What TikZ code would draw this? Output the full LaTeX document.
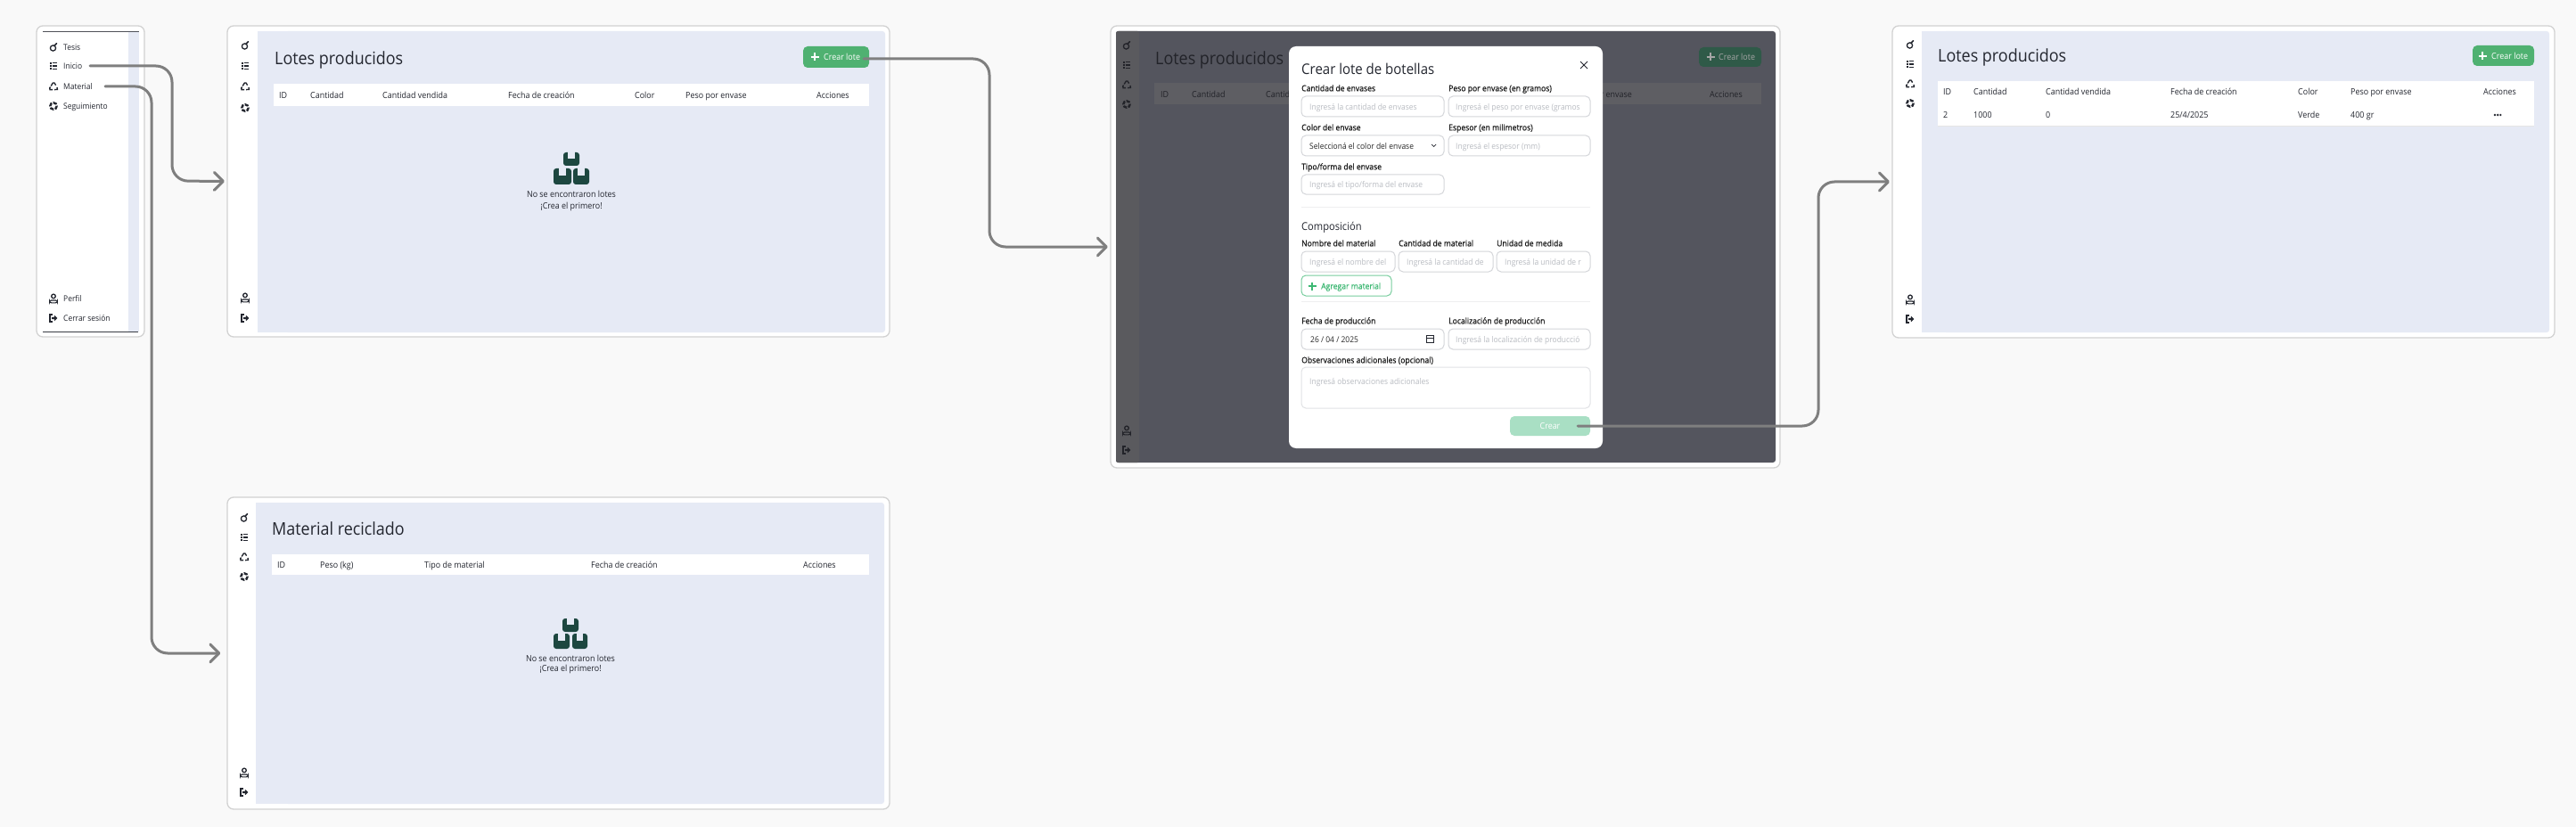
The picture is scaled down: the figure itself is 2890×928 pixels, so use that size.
\documentclass[tikz,border=0pt]{standalone}
\usepackage{fontspec}
\setmainfont[FakeStretch=0.92]{Open Sans}
\newfontfamily\labf[FakeStretch=0.92,FakeBold=0.6]{Open Sans}
\usetikzlibrary{arrows.meta}
\definecolor{pagebg}{HTML}{F9F9F9}
\definecolor{framec}{HTML}{D2D2D2}
\definecolor{bluec}{HTML}{E6EAF5}
\definecolor{ink}{HTML}{23262F}
\definecolor{conn}{HTML}{7F7F7F}
\definecolor{greenb}{HTML}{4FB171}
\definecolor{greend}{HTML}{2F5A48}
\definecolor{greenl}{HTML}{A9DFC4}
\definecolor{greent}{HTML}{3DB873}
\definecolor{boxc}{HTML}{1D4740}
\definecolor{dimbg}{HTML}{54555E}
\definecolor{dimside}{HTML}{5A5A5E}
\definecolor{dimhead}{HTML}{5E5E63}
\definecolor{dimink}{HTML}{222329}
\definecolor{field}{HTML}{D4D6DA}
\definecolor{ph}{HTML}{B9BCC2}
\definecolor{rulec}{HTML}{EEEEF0}
\colorlet{icol}{ink}
\newcommand{\fs}[1]{\fontsize{#1pt}{#1pt}\selectfont}
\tikzset{
 x=1pt,y=-1pt,
 frame/.style={draw=framec,line width=1.3pt,fill=white,rounded corners=7pt,inner sep=0pt,minimum width=0pt},
 basetxt/.style={anchor=base west,inner sep=0pt,text=ink},
 txt/.style={basetxt,yshift=-3.4pt,font=\fs{9.7}},
 side/.style={txt,font=\fs{9.2}},
 title/.style={basetxt,font=\fs{19.5}},
 lab/.style={txt,font=\labf\fs{9.35},text=black!90},
 val/.style={txt,font=\fs{9.2},text=black!85},
 phd/.style={txt,font=\fs{9.2},text=ph},
 inp/.style={draw=field,line width=1pt,fill=white,rounded corners=5pt},
 flow/.style={draw=conn,line width=3pt,rounded corners=18pt,line cap=round,-{Straight Barb[length=10pt,width=20pt,round]}},
 icon/.style={draw=icol,line width=1.3pt,line cap=round},
 ic bottle/.pic={\draw[icon] (-0.5,1) circle[radius=3.1];\draw[icon,line width=1.6pt] (0.8,-1.5)--(3.6,-4.4);},
 ic list/.pic={\foreach \q in {-3.4,0,3.4}{\fill[icol] (-4.4,\q-1) rectangle (-2.4,\q+1);\draw[icon,line cap=butt] (-1.4,\q)--(4.4,\q);}},
 ic recy/.pic={\draw[icon,line cap=butt,line width=1.4pt,join=round] (-2.8,-0.6)--(-0.6,-4)--(1,-4)--(2.6,-1.4);
   \draw[icon,line cap=butt,line width=1.4pt] (4,1)--(4.4,3.4)--(1.2,3.6);
   \draw[icon,line cap=butt,line width=1.4pt] (-1,3.6)--(-4,3.6)--(-4.2,1.6)--(-3.4,0.6);},
 ic gear/.pic={\draw[draw=icol,line width=2.4pt,dash pattern=on 4pt off 1.6pt] (0,0) circle[radius=3.7];},
 ic user/.pic={\draw[icon] (0,-2.6) circle[radius=2.3];\draw[icon,line width=1.1pt,rounded corners=2pt] (-4.3,4.8)--(-4.3,2)--(4.3,2)--(4.3,4.8)--cycle;},
 ic out/.pic={\draw[icon,line cap=butt,line width=1.5pt] (-1.2,-4.2)--(-4,-4.2)--(-4,4.2)--(-1.2,4.2);\fill[icol] (-1.8,-1.2)--(0.8,-1.2)--(0.8,-3.4)--(4.4,0)--(0.8,3.4)--(0.8,1.2)--(-1.8,1.2)--cycle;},
}
% icon column: x, six y positions
\newcommand{\icons}[7]{%
 \pic at (#1,#2) {ic bottle};\pic at (#1,#3) {ic list};\pic at (#1,#4) {ic recy};
 \pic at (#1,#5) {ic gear};\pic at (#1,#6) {ic user};\pic at (#1,#7) {ic out};}
% one box of the empty-state icon: x0 y0 x1 y1
\newcommand{\onebox}[4]{%
 \fill[boxc,rounded corners=3pt] (#1,#2) rectangle (#3,#4);
 \pgfmathsetmacro{\mx}{(#1+#3)/2}%
 \fill[bluec] (\mx-3.6,#2-0.5) rectangle (\mx+3.6,#2+0.45*#4-0.45*#2);}
\newcommand{\T}[5][txt]{\node[#1] (#2) at (#3,#4) {#5};}
\newcommand{\TC}[5][]{\node[txt,anchor=base,#1] (#2) at (#3,#4) {#5};}
\newcommand{\plus}[3]{\draw[#3,line width=1.4pt] (#1-4.5,#2)--(#1+4.5,#2) (#1,#2-4.5)--(#1,#2+4.5);}
\begin{document}
\begin{tikzpicture}
\useasboundingbox (0,0) rectangle (2890,928);
\fill[pagebg] (0,0) rectangle (2890,928);

% ---------- sidebar frame
\node[frame,minimum width=121pt,minimum height=349pt] (fs) at (101.5,203.5) {};
\fill[bluec] (144,36) rectangle (156,372);
\draw[ink!80,line width=1.4pt] (48,35.5)--(156,35.5);
\draw[ink!90,line width=1pt] (48,372)--(155,372);
\icons{60}{53}{74}{97}{119}{335}{357}
\T[side]{sTesis}{71}{53}{Tesis}
\T[side]{sInicio}{71}{74.5}{Inicio}
\T[side]{sMaterial}{71}{97}{Material}
\T[side]{sSeg}{71}{119}{Seguimiento}
\T[side]{sPerfil}{71}{335}{Perfil}
\T[side]{sCerrar}{71}{357}{Cerrar sesión}

% ---------- frame 1
\node[frame,minimum width=743pt,minimum height=349pt] (f1) at (626.5,203.5) {};
\fill[bluec,rounded corners=3pt] (320,35) rectangle (993,373);
\fill[bluec] (289,35) rectangle (330,373);
\icons{275}{51}{74}{97}{121}{334}{357}
\T[title]{aTitle}{308}{72.3}{Lotes producidos}
\fill[white] (307,94) rectangle (975,119);
\T{aH1}{313}{107}{ID}
\T{aH2}{348}{107}{Cantidad}
\T{aH3}{429}{107}{Cantidad vendida}
\T{aH4}{570}{107}{Fecha de creación}
\T{aH5}{712}{107}{Color}
\T{aH6}{769}{107}{Peso por envase}
\T{aH7}{916}{107}{Acciones}
\node[fill=greenb,rounded corners=5pt,minimum width=74pt,minimum height=24pt,inner sep=0pt] (aBtn) at (938,64) {};
\plus{914}{64}{white}
\T[txt,text=white]{aBtnT}{924}{64}{Crear lote}
\onebox{632}{171}{650}{186}\onebox{621}{189}{641}{207}\onebox{643}{189}{661}{207}
\TC{aE1}{641}{218}{No se encontraron lotes}
\TC{aE2}{641}{231}{¡Crea el primero!}

% ---------- frame 2
\node[frame,minimum width=743pt,minimum height=350pt] (f2) at (626.5,733) {};
\fill[bluec,rounded corners=3pt] (320,564) rectangle (992,902);
\fill[bluec] (287,564) rectangle (330,902);
\icons{274}{581}{603}{625}{647}{867}{889}
\T[title]{bTitle}{305}{600.7}{Material reciclado}
\fill[white] (305,622) rectangle (975,645);
\T{bH1}{311}{634}{ID}
\T{bH2}{359}{634}{Peso (kg)}
\T{bH3}{476}{634}{Tipo de material}
\T{bH4}{663}{634}{Fecha de creación}
\T{bH5}{901}{634}{Acciones}
\onebox{631}{694}{649}{709}\onebox{621}{711}{639}{728}\onebox{642}{711}{659}{728}
\TC{bE1}{640}{739}{No se encontraron lotes}
\TC{bE2}{640}{750}{¡Crea el primero!}

% ---------- frame 3 (dimmed page + modal)
\node[frame,minimum width=751pt,minimum height=496pt] (f3) at (1621.5,277) {};
\fill[dimbg,rounded corners=3pt] (1252,35) rectangle (1992,519);
\fill[dimside,rounded corners=2pt] (1252,35) rectangle (1278,519);
\colorlet{icol}{dimink}
\icons{1264}{51}{73}{95}{117}{483}{505}
\colorlet{icol}{ink}
\T[title,text=dimink]{cTitle}{1296}{72.3}{Lotes producidos}
\fill[dimhead] (1295,93) rectangle (1976,117);
\T[txt,text=dimink]{cH1}{1302}{106}{ID}
\T[txt,text=dimink]{cH2}{1337}{106}{Cantidad}
\T[txt,text=dimink]{cH3}{1420}{106}{Cantidad vendida}
\T[txt,text=dimink,anchor=base east]{cH6}{1831}{106}{Peso por envase}
\T[txt,text=dimink]{cH7}{1918}{106}{Acciones}
\node[fill=greend,rounded corners=5pt,minimum width=70pt,minimum height=22pt,inner sep=0pt] (cBtn) at (1941,64) {};
\plus{1919}{64}{gray!70}
\T[txt,text=gray!70]{cBtnT}{1928}{64}{Crear lote}
% modal
\node[fill=white,rounded corners=8pt,minimum width=352pt,minimum height=451pt,inner sep=0pt] (modal) at (1622,277.5) {};
\T[basetxt,font=\fs{16.3}]{mTitle}{1460}{83.3}{Crear lote de botellas}
\draw[ink,line width=1pt] (1773,69)--(1781,77) (1781,69)--(1773,77);
\T[lab]{l1}{1460}{99}{Cantidad de envases}
\T[lab]{l2}{1625}{99}{Peso por envase (en gramos)}
\draw[inp] (1460,108) rectangle (1620,131);
\draw[inp] (1625,108) rectangle (1784,131);
\T[phd]{p1}{1469}{120}{Ingresá la cantidad de envases}
\T[phd]{p2}{1633}{120}{Ingresá el peso por envase (gramos}
\T[lab]{l3}{1460}{143}{Color del envase}
\T[lab]{l4}{1625}{143}{Espesor (en milimetros)}
\draw[inp] (1460,152) rectangle (1620,175);
\draw[inp] (1625,152) rectangle (1784,175);
\T[val]{p3}{1469}{164}{Seleccioná el color del envase}
\draw[ink,line width=.7pt] (1606,162)--(1608.5,164.5)--(1611,162);
\T[phd]{p4}{1633}{164}{Ingresá el espesor (mm)}
\T[lab]{l5}{1460}{187}{Tipo/forma del envase}
\draw[inp] (1460,196) rectangle (1620,218);
\T[phd]{p5}{1469}{207}{Ingresá el tipo/forma del envase}
\draw[rulec,line width=1pt] (1460,232)--(1784,232);
\T[basetxt,font=\fs{12.1}]{mComp}{1460}{258}{Composición}
\T[lab]{l6}{1460}{273}{Nombre del material}
\T[lab]{l7}{1569}{273}{Cantidad de material}
\T[lab]{l8}{1679}{273}{Unidad de medida}
\draw[inp] (1460,282) rectangle (1565,305);
\draw[inp] (1569,282) rectangle (1675,305);
\draw[inp] (1679,282) rectangle (1784,305);
\T[phd]{p6}{1469}{294}{Ingresá el nombre del}
\T[phd]{p7}{1578}{294}{Ingresá la cantidad de}
\T[phd]{p8}{1688}{294}{Ingresá la unidad de r}
\draw[draw=greent!70,line width=1pt,fill=white,rounded corners=5pt] (1460,309) rectangle (1561,332);
\plus{1472}{321}{greent}
\T[lab,text=greent]{mAdd}{1482}{321}{Agregar material}
\draw[rulec,line width=1pt] (1460,338)--(1784,338);
\T[lab]{l9}{1460}{360}{Fecha de producción}
\T[lab]{l10}{1625}{360}{Localización de producción}
\draw[inp] (1460,369) rectangle (1620,392);
\draw[inp] (1625,369) rectangle (1784,392);
\T[val]{p9}{1470}{381}{26 / 04 / 2025}
\draw[ink,line width=.8pt] (1600,376.5) rectangle (1608,384.5) (1600,379)--(1608,379);
\T[phd]{p10}{1633}{381}{Ingresá la localización de producció}
\T[lab]{l11}{1460}{404}{Observaciones adicionales (opcional)}
\draw[inp,draw=field!70] (1460,412) rectangle (1784,458);
\T[phd]{p11}{1469}{428}{Ingresá observaciones adicionales}
\node[fill=greenl,rounded corners=5pt,minimum width=90pt,minimum height=22pt,inner sep=0pt] (mBtn) at (1739,478) {};
\TC[text=white]{mBtnT}{1739}{478}{Crear}

% ---------- frame 4
\node[frame,minimum width=743pt,minimum height=350pt] (f4) at (2494.5,204) {};
\fill[bluec,rounded corners=3pt] (2180,35) rectangle (2860,373);
\fill[bluec] (2156,35) rectangle (2190,373);
\icons{2143}{50}{72}{94}{116}{336}{358}
\T[title]{dTitle}{2174}{70}{Lotes producidos}
\node[fill=greenb,rounded corners=5pt,minimum width=69pt,minimum height=23pt,inner sep=0pt] (dBtn) at (2808.5,62.5) {};
\plus{2785}{63}{white}
\T[txt,text=white]{dBtnT}{2795}{63}{Crear lote}
\fill[white] (2174,91) rectangle (2843,141);
\draw[black!10,line width=.6pt] (2174,141)--(2843,141);
\T{dH1}{2180}{103}{ID}
\T{dH2}{2214}{103}{Cantidad}
\T{dH3}{2295}{103}{Cantidad vendida}
\T{dH4}{2435}{103}{Fecha de creación}
\T{dH5}{2578}{103}{Color}
\T{dH6}{2637}{103}{Peso por envase}
\T{dH7}{2786}{103}{Acciones}
\T{dR1}{2180}{129}{2}
\T{dR2}{2214}{129}{1000}
\T{dR3}{2295}{129}{0}
\T{dR4}{2435}{129}{25/4/2025}
\T{dR5}{2578}{129}{Verde}
\T{dR6}{2637}{129}{400 gr}
\foreach \q in {2799,2802.2,2805.4} \fill[ink] (\q,129) circle[radius=1.3];

% ---------- connectors
\coordinate (m1) at (193,203);
\coordinate (m2) at (170,733);
\coordinate (m3) at (1110,277);
\coordinate (m4) at (2040,204);
\coordinate (c1) at (101,74);
\coordinate (c2) at (118,97);
\coordinate (c3) at ([xshift=-6pt,yshift=-2pt]aBtn.east);
\coordinate (c4) at ([xshift=-14pt]mBtn.east);
\draw[flow,shorten >=2.5pt] (c1) -| (m1) -- (f1.west);
\draw[flow,shorten >=7pt] (c2) -| (m2) -- (f2.west);
\draw[flow,shorten >=2.5pt] (c3) -| (m3) -- (f3.west);
\draw[flow,shorten >=2.5pt] (c4) -| (m4) -- (f4.west);
\end{tikzpicture}
\end{document}
